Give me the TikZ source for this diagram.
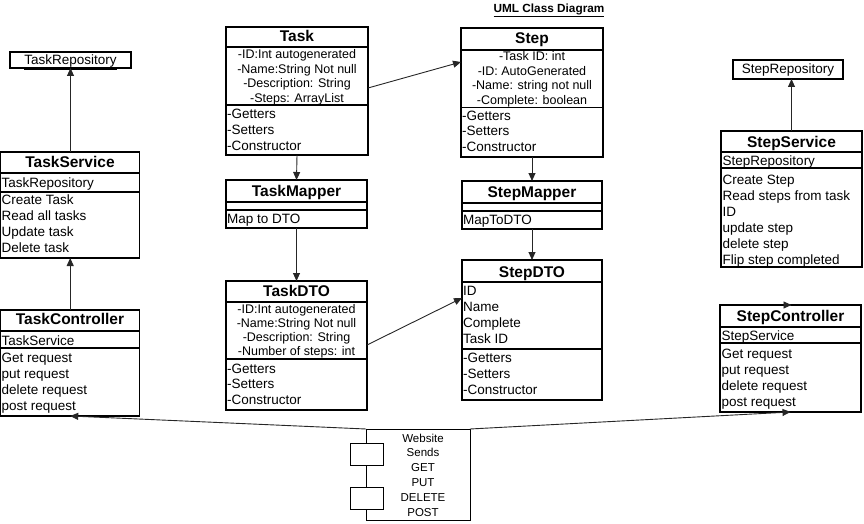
\documentclass[tikz,border=0pt]{standalone}
\usepackage{fontspec}
\setmainfont{Liberation Sans}
\usetikzlibrary{arrows.meta,calc}
\begin{document}
\begin{tikzpicture}[x=1pt,y=-1pt,
  frame/.style={draw, line width=1.2pt, inner sep=0pt, outer sep=0pt, anchor=north west},
  sepline/.style={line width=1.2pt},
  ttl/.style={font=\fontsize{15.5}{18}\selectfont\bfseries, inner sep=0pt, anchor=base},
  bl/.style={font=\fontsize{13.5}{16}\selectfont, inner sep=0pt, anchor=base west},
  ac/.style={font=\fontsize{12.5}{15}\selectfont, inner sep=0pt, anchor=base},
  cmp/.style={font=\fontsize{11.5}{14}\selectfont, inner sep=0pt, anchor=base},
  arr/.style={-{Triangle[length=8pt,width=7pt]}, line width=0.9pt, draw=black!85},
]
\useasboundingbox (0,0) rectangle (864,524);

% title
\node[font=\fontsize{11.8}{14}\selectfont\bfseries, inner sep=0pt, anchor=base] (title) at (549,12.5) {\underline{UML Class Diagram}};

% ---------- TaskRepository
\node[frame, minimum width=121, minimum height=16] (trepo) at (10,52) {};
\node[bl, anchor=base] (trepot) at (70.5,65) {\underline{TaskRepository}};

% ---------- TaskService
\node[frame, minimum width=139, minimum height=106] (tsvc) at (0.7,152) {};
\draw[sepline] (0.7,173) -- (139.7,173) (0.7,192) -- (139.7,192);
\node[ttl] (tsvct) at (70,167.5) {TaskService};
\node[bl] (tsvca) at (1.5,187) {TaskRepository};
\foreach \x [count=\i] in {Create Task,Read all tasks,Update task,Delete task}
  \node[bl] (tsvcm\i) at (1.5,{204+16.3*(\i-1)}) {\x};

% ---------- TaskController
\node[frame, minimum width=139, minimum height=106] (tctl) at (0.7,310) {};
\draw[sepline] (0.7,331) -- (139.7,331) (0.7,348) -- (139.7,348);
\node[ttl] (tctlt) at (70,324.5) {TaskController};
\node[bl] (tctla) at (1.5,345) {TaskService};
\foreach \x [count=\i] in {Get request,put request,delete request,post request}
  \node[bl] (tctlm\i) at (1.5,{362+16.2*(\i-1)}) {\x};

% ---------- Task
\node[frame, minimum width=142, minimum height=128] (task) at (226,27) {};
\draw[sepline] (226,47) -- (368,47) (226,105) -- (368,105);
\node[ttl] (taskt) at (297,42) {Task};
\foreach \x [count=\i] in {-ID:Int autogenerated,-Name:String Not null,-Description: String,-Steps: ArrayList}
  \node[ac] (taska\i) at (297,{59+14.4*(\i-1)}) {\x};
\foreach \x [count=\i] in {-Getters,-Setters,-Constructor}
  \node[bl] (taskm\i) at (227,{119+15.6*(\i-1)}) {\x};

% ---------- Step
\node[frame, minimum width=142, minimum height=129] (step) at (461,28) {};
\draw[sepline] (461,50) -- (603,50) (461,107.5) -- (603,107.5);
\node[ttl] (stept) at (532,44) {Step};
\foreach \x [count=\i] in {-Task ID: int,-ID: AutoGenerated,-Name: string not null,-Complete: boolean}
  \node[ac] (stepa\i) at (532,{61+14.4*(\i-1)}) {\x};
\foreach \x [count=\i] in {-Getters,-Setters,-Constructor}
  \node[bl] (stepm\i) at (462,{120.5+15.4*(\i-1)}) {\x};

% ---------- TaskMapper
\node[frame, minimum width=141, minimum height=48] (tmap) at (226,180) {};
\draw[sepline] (226,202) -- (367,202) (226,210) -- (367,210);
\node[ttl] (tmapt) at (296.5,196.5) {TaskMapper};
\node[bl] (tmapm) at (227,223) {Map to DTO};

% ---------- StepMapper
\node[frame, minimum width=140, minimum height=48] (smap) at (462,181) {};
\draw[sepline] (462,203) -- (602,203) (462,211) -- (602,211);
\node[ttl] (smapt) at (532,197) {StepMapper};
\node[bl] (smapm) at (463,224) {MapToDTO};

% ---------- TaskDTO
\node[frame, minimum width=141, minimum height=129] (tdto) at (226,281) {};
\draw[sepline] (226,302) -- (367,302) (226,359) -- (367,359);
\node[ttl] (tdtot) at (296.5,296) {TaskDTO};
\foreach \x [count=\i] in {-ID:Int autogenerated,-Name:String Not null,-Description: String,-Number of steps: int}
  \node[ac] (tdtoa\i) at (296.5,{313+14.3*(\i-1)}) {\x};
\foreach \x [count=\i] in {-Getters,-Setters,-Constructor}
  \node[bl] (tdtom\i) at (227,{373+15.6*(\i-1)}) {\x};

% ---------- StepDTO
\node[frame, minimum width=140, minimum height=140] (sdto) at (462,260) {};
\draw[sepline] (462,282) -- (602,282) (462,349) -- (602,349);
\node[ttl] (sdtot) at (532,277) {StepDTO};
\foreach \x [count=\i] in {ID,Name,Complete,Task ID}
  \node[bl] (sdtoa\i) at (463,{295.5+16*(\i-1)}) {\x};
\foreach \x [count=\i] in {-Getters,-Setters,-Constructor}
  \node[bl] (sdtom\i) at (463,{362+16.2*(\i-1)}) {\x};

% ---------- StepRepository
\node[frame, minimum width=110, minimum height=19] (srepo) at (733,60) {};
\node[bl, anchor=base] (srepot) at (788,74) {\underline{StepRepository}};

% ---------- StepService
\node[frame, minimum width=141, minimum height=136] (ssvc) at (721,131) {};
\draw[sepline] (721,152) -- (862,152) (721,168) -- (862,168);
\node[ttl] (ssvct) at (791.5,147) {StepService};
\node[bl] (ssvca) at (722.5,165) {StepRepository};
\foreach \x [count=\i] in {Create Step,Read steps from task,ID,update step,delete step,Flip step completed}
  \node[bl] (ssvcm\i) at (722.5,{184+16*(\i-1)}) {\x};

% ---------- StepController
\node[frame, minimum width=141, minimum height=107] (sctl) at (720,305) {};
\draw[sepline] (720,327) -- (861,327) (720,343) -- (861,343);
\node[ttl] (sctlt) at (790.5,321) {StepController};
\node[bl] (sctla) at (721.5,340) {StepService};
\foreach \x [count=\i] in {Get request,put request,delete request,post request}
  \node[bl] (sctlm\i) at (721.5,{358+16*(\i-1)}) {\x};

% ---------- Website component
\node[frame, minimum width=104, minimum height=91, line width=0.9pt] (comp) at (366,429) {};
\node[frame, minimum width=33, minimum height=22, line width=0.9pt, fill=white] (comp1) at (350,443) {};
\node[frame, minimum width=33, minimum height=22, line width=0.9pt, fill=white] (comp2) at (350,487) {};
\foreach \x [count=\i] in {Website,Sends,GET,PUT,DELETE,POST}
  \node[cmp] (compt\i) at (423,{442+14.8*(\i-1)}) {\x};

% ---------- connectors
\draw[arr] (trepo.south |- tsvc.north) -- (trepo.south);
\draw[arr] (tctl.north) -- (tsvc.south);
\draw[arr] (task.south) -- (tmap.north);
\draw[arr] (tmap.south) -- (tdto.north);
\draw[arr] ($(task.north east)+(0,61)$) -- ($(step.north west)+(0,34)$);
\draw[arr] (step.south) -- (smap.north);
\draw[arr] (smap.south) -- (sdto.north);
\draw[arr] ($(tdto.north east)+(0,64)$) -- ($(sdto.north west)+(0,38)$);
\draw[arr] (ssvc.north) -- (ssvc.north |- srepo.south);
\draw[arr] (sctl.north) -- (sctl.north -| ssvc.south);
\draw[arr] (comp.north west) -- (tctl.south);
\draw[arr] (comp.north east) -- (sctl.south);
\end{tikzpicture}
\end{document}
